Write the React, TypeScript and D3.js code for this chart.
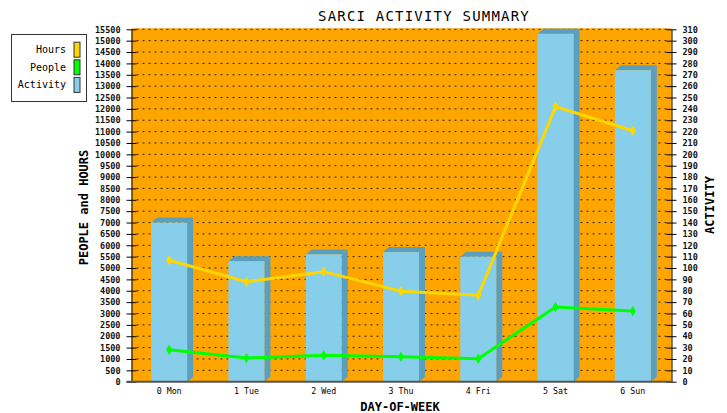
import React, { useRef, useEffect } from "react";
import * as d3 from "d3";

const days = ["0 Mon", "1 Tue", "2 Wed", "3 Thu", "4 Fri", "5 Sat", "6 Sun"];
const hours = [5340, 4400, 4840, 3980, 3800, 12100, 11040];
const people = [1410, 1040, 1160, 1100, 1010, 3290, 3110];
const activity = [140, 106, 112, 114, 110, 306, 274];
const leftTicks = d3.range(0, 15501, 500);
const rightTicks = d3.range(0, 311, 10);

const MONO = "'DejaVu Sans Mono', 'Liberation Mono', monospace";

function App() {
  const ref = useRef<HTMLDivElement>(null);

  const w = 727,
    h = 413;
  const plot = { left: 131.5, right: 671.5, top: 29.3, bottom: 381.7 };

  useEffect(() => {
    d3.select(ref.current).selectAll("*").remove();

    const svg = d3
      .select(ref.current)
      .append("svg")
      .attr("width", w)
      .attr("height", h)
      .style("display", "block")
      .style("background", "#fff");

    const x = d3
      .scaleBand()
      .domain(days)
      .range([130.5, 671.5])
      .padding(0);
    const yL = d3
      .scaleLinear()
      .domain([0, 15500])
      .range([plot.bottom, plot.top]);
    const yR = d3
      .scaleLinear()
      .domain([0, 310])
      .range([plot.bottom, plot.top]);

    // title
    svg
      .append("text")
      .attr("x", 424)
      .attr("y", 21)
      .attr("text-anchor", "middle")
      .style("font-family", MONO)
      .style("font-size", "14px")
      .style("letter-spacing", "1.2px")
      .text("SARCI ACTIVITY SUMMARY");

    // plot background
    svg
      .append("rect")
      .attr("x", plot.left)
      .attr("y", plot.top - 1)
      .attr("width", plot.right - plot.left)
      .attr("height", plot.bottom - plot.top + 1)
      .attr("fill", "#FFA500");

    // grid
    svg
      .append("g")
      .selectAll("line")
      .data(leftTicks.filter(d => d > 0))
      .enter()
      .append("line")
      .attr("x1", plot.left + 5)
      .attr("x2", plot.right - 5)
      .attr("y1", d => yL(d))
      .attr("y2", d => yL(d))
      .attr("stroke", "#222")
      .attr("stroke-width", 1)
      .attr("stroke-dasharray", "2,4");

    // 3d bars
    const bw = 36,
      dx = 6,
      dy = 5;
    const bars = svg
      .append("g")
      .selectAll("g")
      .data(activity)
      .enter()
      .append("g");

    const cx = (i: number) => (x(days[i]) as number) + x.bandwidth() / 2;

    bars
      .append("path")
      .attr("fill", "#5B9FBF")
      .attr("d", (d, i) => {
        const x1 = cx(i) + bw / 2;
        const y1 = yR(d);
        const y0 = yR(0);
        return `M${x1},${y1} L${x1 + dx},${y1 - dy} L${x1 + dx},${y0 - dy} L${x1},${y0} Z`;
      });
    bars
      .append("path")
      .attr("fill", "#5B9FBF")
      .attr("d", (d, i) => {
        const x0 = cx(i) - bw / 2;
        const x1 = cx(i) + bw / 2;
        const y1 = yR(d);
        return `M${x0},${y1} L${x0 + dx},${y1 - dy} L${x1 + dx},${y1 - dy} L${x1},${y1} Z`;
      });
    bars
      .append("rect")
      .attr("x", (d, i) => cx(i) - bw / 2)
      .attr("y", d => yR(d))
      .attr("width", bw)
      .attr("height", d => yR(0) - yR(d))
      .attr("fill", "#87CEEB");

    // lines
    const series = [
      { values: hours, color: "#FFD700" },
      { values: people, color: "#00FF00" }
    ];
    series.forEach(s => {
      const line = d3
        .line<number>()
        .x((d, i) => cx(i))
        .y(d => yL(d));
      svg
        .append("path")
        .datum(s.values)
        .attr("d", line)
        .attr("fill", "none")
        .attr("stroke", s.color)
        .attr("stroke-width", 3);
      svg
        .append("g")
        .selectAll("path")
        .data(s.values)
        .enter()
        .append("path")
        .attr("transform", (d, i) => `translate(${cx(i)},${yL(d)})`)
        .attr("d", d3.symbol().type(d3.symbolDiamond).size(32))
        .attr("fill", s.color);
    });

    // axes
    const leftAxis = d3
      .axisLeft(yL)
      .tickValues(leftTicks)
      .tickFormat(d3.format("d"))
      .tickSizeInner(5)
      .tickSizeOuter(0)
      .tickPadding(6);
    const gl = svg
      .append("g")
      .attr("transform", `translate(${plot.left},0)`)
      .call(leftAxis);
    gl.selectAll(".tick line").attr("x2", 5).attr("x1", -5);
    gl.selectAll("text")
      .style("font-family", MONO)
      .style("font-size", "8.5px")
      .style("font-weight", "bold")
      .attr("fill", "#111");

    const rightAxis = d3
      .axisRight(yR)
      .tickValues(rightTicks)
      .tickFormat(d3.format("d"))
      .tickSizeInner(5)
      .tickSizeOuter(0)
      .tickPadding(6);
    const gr = svg
      .append("g")
      .attr("transform", `translate(${plot.right},0)`)
      .call(rightAxis);
    gr.selectAll(".tick line").attr("x1", -5).attr("x2", 5);
    gr.selectAll("text")
      .style("font-family", MONO)
      .style("font-size", "8.5px")
      .style("font-weight", "bold")
      .attr("fill", "#111");

    // bottom
    svg
      .append("line")
      .attr("x1", plot.left - 5)
      .attr("x2", plot.right)
      .attr("y1", plot.bottom)
      .attr("y2", plot.bottom)
      .attr("stroke", "#555")
      .attr("stroke-width", 2);

    svg
      .append("g")
      .selectAll("text")
      .data(days)
      .enter()
      .append("text")
      .attr("x", d => (x(d) as number) + x.bandwidth() / 2)
      .attr("y", 394.3)
      .attr("text-anchor", "middle")
      .style("font-family", MONO)
      .style("font-size", "8.3px")
      .text(d => d);

    // axis titles
    const title = (tx: number, ty: number, rot: number, t: string) =>
      svg
        .append("text")
        .attr("transform", `translate(${tx},${ty}) rotate(${rot})`)
        .attr("text-anchor", "middle")
        .attr("dy", "0.35em")
        .style("font-family", MONO)
        .style("font-size", "12px")
        .style("font-weight", "bold")
        .text(t);
    title(400, 407, 0, "DAY-OF-WEEK");
    title(84, 207.5, -90, "PEOPLE and HOURS");
    title(710, 205, -90, "ACTIVITY");
    // clipped copy at the left edge, as in the source image
    title(-5, 205, -90, "ACTIVITY");

    // legend
    const legend = [
      { name: "Hours", color: "#FFD700" },
      { name: "People", color: "#00FF00" },
      { name: "Activity", color: "#87CEEB" }
    ];
    svg
      .append("rect")
      .attr("x", 11.5)
      .attr("y", 34.5)
      .attr("width", 75)
      .attr("height", 67)
      .attr("fill", "#fff")
      .attr("stroke", "#333");
    const li = svg
      .append("g")
      .selectAll("g")
      .data(legend)
      .enter()
      .append("g")
      .attr("transform", (d, i) => `translate(0,${49.7 + i * 17.6})`);
    li.append("text")
      .attr("x", 66)
      .attr("dy", "0.35em")
      .attr("text-anchor", "end")
      .style("font-family", MONO)
      .style("font-size", "10px")
      .text(d => d.name);
    li.append("rect")
      .attr("x", 74)
      .attr("y", -7.5)
      .attr("width", 6)
      .attr("height", 15)
      .attr("fill", d => d.color)
      .attr("stroke", "#333");
  }, []);

  return (
    <div
      className="App"
      ref={ref}
      style={{ position: "absolute", left: 0, top: 0 }}
    ></div>
  );
}

export default App;
